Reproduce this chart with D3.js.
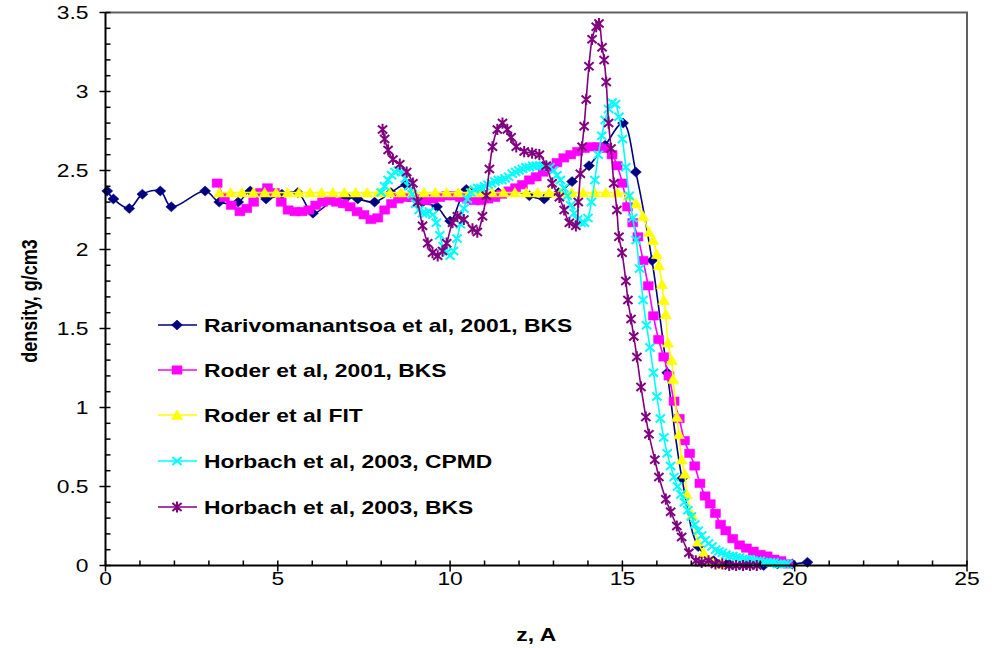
<!DOCTYPE html>
<html>
<head>
<meta charset="utf-8">
<script src="https://cdn.jsdelivr.net/npm/d3@7"></script>
<style>
  html, body { margin: 0; padding: 0; background: #fff; }
  svg { display: block; font-family: "Liberation Sans", Arial, sans-serif; }
</style>
</head>
<body>
<svg id="chart" width="992" height="648"></svg>
<script>
// ---- data: density profiles rho(z) ----
const zRari = [0.05, 0.23, 0.69, 1.07, 1.59, 1.91, 2.89, 3.30, 3.85, 4.20, 4.66, 5.12, 5.58, 6.02, 6.60, 7.00, 7.32, 7.81,
  8.28, 8.72, 9.20, 9.62, 10.00, 10.47, 10.93, 11.40, 11.88, 12.30, 12.73, 13.15, 13.54, 14.03, 14.50, 15.02, 15.39,
  15.86, 16.30, 16.73, 17.20, 17.65, 18.10, 18.60, 19.10, 19.50, 19.93, 20.37];
const rhoRari = [2.37, 2.32, 2.26, 2.35, 2.37, 2.27, 2.37, 2.30, 2.30, 2.37, 2.32, 2.35, 2.36, 2.23, 2.31, 2.33, 2.32, 2.30,
  2.36, 2.41, 2.30, 2.27, 2.18, 2.38, 2.36, 2.36, 2.37, 2.34, 2.32, 2.36, 2.43, 2.53, 2.66, 2.80, 2.49,
  1.93, 1.22, 0.55, 0.12, 0.03, 0.01, 0.01, 0.00, 0.01, 0.01, 0.02];

const zRoder = [3.24, 3.45, 3.65, 3.90, 4.10, 4.30, 4.50, 4.70, 4.90, 5.10, 5.30, 5.50, 5.70, 5.90, 6.10, 6.30, 6.50, 6.70,
  6.90, 7.10, 7.30, 7.50, 7.70, 7.90, 8.10, 8.30, 8.50, 8.70, 8.90, 9.10, 9.30, 9.50, 9.70, 9.90, 10.10, 10.30, 10.50,
  10.70, 10.90, 11.10, 11.30, 11.50, 11.70, 11.90, 12.10, 12.30, 12.50, 12.70, 12.90, 13.10, 13.30, 13.50, 13.70, 13.90,
  14.10, 14.30, 14.50, 14.70, 14.85, 15.00, 15.15, 15.30, 15.45, 15.60, 15.75, 15.90, 16.05, 16.20, 16.35, 16.50, 16.65,
  16.80, 16.95, 17.10, 17.25, 17.40, 17.55, 17.70, 17.85, 18.00, 18.20, 18.40, 18.60, 18.80, 19.00, 19.20, 19.40, 19.60, 19.80];
const rhoRoder = [2.42, 2.33, 2.28, 2.24, 2.26, 2.30, 2.36, 2.39, 2.36, 2.30, 2.25, 2.24, 2.24, 2.25, 2.28, 2.30, 2.31, 2.30,
  2.29, 2.27, 2.24, 2.22, 2.19, 2.20, 2.25, 2.29, 2.32, 2.33, 2.33, 2.32, 2.31, 2.32, 2.33, 2.34, 2.34, 2.33, 2.32,
  2.31, 2.31, 2.32, 2.33, 2.35, 2.37, 2.39, 2.41, 2.44, 2.46, 2.49, 2.52, 2.55, 2.58, 2.60, 2.62, 2.64,
  2.65, 2.65, 2.64, 2.60, 2.53, 2.42, 2.27, 2.17, 2.08, 1.93, 1.77, 1.58, 1.43, 1.32, 1.20, 1.04, 0.93,
  0.79, 0.71, 0.63, 0.52, 0.44, 0.39, 0.33, 0.26, 0.22, 0.17, 0.13, 0.11, 0.09, 0.07, 0.06, 0.04, 0.03, 0.01];

const zFit = [3.30, 3.63, 3.96, 4.29, 4.62, 4.95, 5.28, 5.61, 5.94, 6.27, 6.60, 6.93, 7.26, 7.59, 7.92, 8.25, 8.58, 8.91,
  9.24, 9.57, 9.90, 10.23, 10.56, 10.89, 11.22, 11.55, 11.88, 12.21, 12.54, 12.87, 13.20, 13.53, 13.86, 14.19, 14.52,
  14.85, 15.18, 15.40, 15.60, 15.77, 15.89, 16.00, 16.06, 16.15, 16.20, 16.26, 16.32, 16.43, 16.47, 16.58, 16.64,
  16.72, 16.81, 16.87, 17.02, 17.19, 17.36, 17.60, 17.85];
const rhoFit = [2.36, 2.36, 2.36, 2.36, 2.36, 2.36, 2.36, 2.36, 2.36, 2.36, 2.36, 2.36, 2.36, 2.36, 2.36, 2.36, 2.36, 2.36,
  2.36, 2.36, 2.36, 2.36, 2.36, 2.36, 2.36, 2.36, 2.36, 2.36, 2.36, 2.36, 2.36, 2.36, 2.36, 2.36, 2.36,
  2.36, 2.34, 2.29, 2.21, 2.11, 2.06, 1.97, 1.90, 1.78, 1.68, 1.59, 1.41, 1.30, 1.18, 0.94, 0.83,
  0.67, 0.58, 0.45, 0.32, 0.15, 0.08, 0.03, 0.01];

const zCpmd = [8.0, 8.1, 8.2, 8.3, 8.4, 8.5, 8.6, 8.7, 8.8, 8.9, 9.0, 9.1, 9.2, 9.3, 9.4, 9.5, 9.6, 9.7, 9.8, 9.9,
  10.0, 10.1, 10.2, 10.3, 10.4, 10.5, 10.6, 10.7, 10.8, 10.9, 11.0, 11.1, 11.2, 11.3, 11.4, 11.5, 11.6, 11.7, 11.8, 11.9,
  12.0, 12.1, 12.2, 12.3, 12.4, 12.5, 12.6, 12.7, 12.8, 12.9, 13.0, 13.1, 13.2, 13.3, 13.4, 13.5, 13.6, 13.7, 13.8, 13.9,
  14.0, 14.1, 14.2, 14.3, 14.4, 14.5, 14.6, 14.7, 14.8, 14.9, 15.0, 15.1, 15.2, 15.3, 15.4, 15.5, 15.6, 15.7, 15.8, 15.9,
  16.0, 16.1, 16.2, 16.3, 16.4, 16.5, 16.6, 16.7, 16.8, 16.9, 17.0, 17.1, 17.2, 17.3, 17.4, 17.5, 17.6, 17.7, 17.8, 17.9,
  18.0, 18.1, 18.2, 18.3, 18.4, 18.5, 18.6, 18.7, 18.8, 18.9, 19.0, 19.1, 19.2, 19.3, 19.4, 19.5, 19.6, 19.7, 19.8];
const rhoCpmd = [2.36, 2.40, 2.44, 2.47, 2.49, 2.50, 2.49, 2.45, 2.40, 2.35, 2.29, 2.25, 2.23, 2.23, 2.24, 2.22, 2.17, 2.09, 2.02, 1.98,
  1.96, 1.99, 2.07, 2.16, 2.26, 2.32, 2.36, 2.38, 2.39, 2.39, 2.40, 2.41, 2.42, 2.43, 2.44, 2.44, 2.45, 2.46, 2.48, 2.49,
  2.50, 2.51, 2.52, 2.52, 2.53, 2.53, 2.53, 2.53, 2.53, 2.52, 2.50, 2.47, 2.44, 2.39, 2.34, 2.28, 2.23, 2.19, 2.17, 2.17,
  2.20, 2.30, 2.44, 2.60, 2.72, 2.82, 2.89, 2.93, 2.92, 2.84, 2.70, 2.52, 2.34, 2.20, 2.06, 1.88, 1.68, 1.52, 1.38, 1.22,
  1.07, 0.93, 0.81, 0.71, 0.63, 0.56, 0.50, 0.45, 0.40, 0.35, 0.31, 0.26, 0.22, 0.19, 0.16, 0.14, 0.12, 0.10, 0.09, 0.08,
  0.07, 0.06, 0.06, 0.05, 0.05, 0.04, 0.04, 0.04, 0.03, 0.03, 0.03, 0.02, 0.02, 0.02, 0.02, 0.01, 0.01, 0.01, 0.01];

const zHbks = [8.04, 8.10, 8.20, 8.34, 8.54, 8.74, 8.92, 9.06, 9.20, 9.35, 9.49, 9.64, 9.78, 9.90, 10.07, 10.21, 10.40,
  10.65, 10.79, 10.94, 11.05, 11.14, 11.23, 11.37, 11.52, 11.66, 11.77, 11.92, 12.15, 12.38, 12.59, 12.79, 12.96, 13.17,
  13.31, 13.46, 13.65, 13.72, 13.78, 13.83, 13.89, 13.95, 14.03, 14.12, 14.24, 14.32, 14.41, 14.47, 14.53, 14.60, 14.67,
  14.75, 14.84, 14.90, 14.99, 15.10, 15.16, 15.25, 15.33, 15.42, 15.54, 15.68, 15.77, 15.94, 16.06, 16.26, 16.40, 16.58,
  16.72, 16.93, 17.13, 17.30, 17.50, 17.70, 17.90, 18.10, 18.30, 18.50, 18.70, 18.90];
const rhoHbks = [2.76, 2.70, 2.63, 2.57, 2.54, 2.49, 2.42, 2.30, 2.15, 2.04, 1.98, 1.96, 1.99, 2.04, 2.17, 2.21, 2.19,
  2.13, 2.11, 2.21, 2.34, 2.51, 2.65, 2.76, 2.80, 2.76, 2.71, 2.65, 2.62, 2.61, 2.60, 2.53, 2.42, 2.33,
  2.25, 2.17, 2.15, 2.30, 2.48, 2.65, 2.78, 2.95, 3.16, 3.33, 3.41, 3.43, 3.28, 3.20, 3.06, 2.80, 2.64,
  2.42, 2.25, 2.08, 1.98, 1.80, 1.68, 1.56, 1.45, 1.32, 1.13, 0.94, 0.83, 0.67, 0.56, 0.42, 0.34, 0.25,
  0.18, 0.08, 0.03, 0.02, 0.03, 0.01, 0.01, 0.00, 0.00, 0.00, 0.00, 0.00];

const seriesNames = ["Rarivomanantsoa et al, 2001, BKS", "Roder et al, 2001, BKS", "Roder et al FIT",
  "Horbach et al, 2003, CPMD", "Horbach et al, 2003, BKS"];
const xTickLabels = ["0", "5", "10", "15", "20", "25"];
const yTickLabels = ["0", "0.5", "1", "1.5", "2", "2.5", "3", "3.5"];

// ---- layout ----
const svg = d3.select("#chart");
const M = { left: 105.5, right: 967, top: 12.5, bottom: 565.5 };
const SX = 1.27; // horizontal stretch of text glyphs

const x = d3.scaleLinear().domain([0, 25]).range([M.left, M.right]);
const y = d3.scaleLinear().domain([0, 3.5]).range([M.bottom, M.top]);

// marker shapes (slightly wider than tall)
const markerPath = {
  diamond: "M0,-5L5.5,0L0,5L-5.5,0Z",
  square: "M-5,-4.2H5V4.2H-5Z",
  triangle: "M0,-5.2L5.6,4.4H-5.6Z",
  cross: "M-4.6,-4L4.6,4M-4.6,4L4.6,-4",
  star: "M-4.6,-4L4.6,4M-4.6,4L4.6,-4M0,-5.6V5.6"
};

const series = [
  { name: seriesNames[0], z: zRari, rho: rhoRari, color: "#000080", marker: "diamond", filled: true },
  { name: seriesNames[1], z: zRoder, rho: rhoRoder, color: "#FF00FF", marker: "square", filled: true },
  { name: seriesNames[2], z: zFit, rho: rhoFit, color: "#FFFF00", marker: "triangle", filled: true },
  { name: seriesNames[3], z: zCpmd, rho: rhoCpmd, color: "#00FFFF", marker: "cross", filled: false },
  { name: seriesNames[4], z: zHbks, rho: rhoHbks, color: "#800080", marker: "star", filled: false }
].map(s => ({ ...s, points: s.z.map((v, i) => [v, s.rho[i]]) }));

// plot frame (top and right edges)
svg.append("path")
  .attr("d", `M${M.left},${M.top}H${M.right}V${M.bottom}`)
  .attr("fill", "none").attr("stroke", "#606060").attr("stroke-width", 2);

// ---- series ----
const line = d3.line().x(d => x(d[0])).y(d => y(d[1])).curve(d3.curveCatmullRom.alpha(0.5));
const gSeries = svg.append("g");
series.forEach(s => {
  const g = gSeries.append("g");
  g.append("path").attr("d", line(s.points))
    .attr("fill", "none").attr("stroke", s.color).attr("stroke-width", 1.6);
  g.selectAll("path.m").data(s.points).join("path")
    .attr("class", "m")
    .attr("transform", d => `translate(${x(d[0])},${y(d[1])})`)
    .attr("d", markerPath[s.marker])
    .attr("fill", s.filled ? s.color : "none")
    .attr("stroke", s.color)
    .attr("stroke-width", s.filled ? 0.5 : 2);
});

// ---- axes ----
const gAxes = svg.append("g").attr("stroke", "#000");
gAxes.append("line").attr("x1", M.left).attr("x2", M.right).attr("y1", M.bottom).attr("y2", M.bottom).attr("stroke-width", 2);
gAxes.append("line").attr("x1", M.left).attr("x2", M.left).attr("y1", M.top).attr("y2", M.bottom).attr("stroke-width", 2);

const xMajor = x.ticks(5), xMinor = x.ticks(25).filter(v => v % 5 !== 0);
const yMajor = y.ticks(7), yMinor = y.ticks(35).filter(v => Math.abs(v * 2 - Math.round(v * 2)) > 1e-6);

gAxes.selectAll("line.xM").data(xMajor).join("line").attr("class", "xM")
  .attr("x1", d => x(d)).attr("x2", d => x(d)).attr("y1", M.bottom - 5).attr("y2", M.bottom + 6).attr("stroke-width", 1.5);
gAxes.selectAll("line.xm").data(xMinor).join("line").attr("class", "xm")
  .attr("x1", d => x(d)).attr("x2", d => x(d)).attr("y1", M.bottom - 5).attr("y2", M.bottom).attr("stroke-width", 1.5);
gAxes.selectAll("line.yM").data(yMajor).join("line").attr("class", "yM")
  .attr("x1", M.left - 6).attr("x2", M.left + 5).attr("y1", d => y(d)).attr("y2", d => y(d)).attr("stroke-width", 1.5);
gAxes.selectAll("line.ym").data(yMinor).join("line").attr("class", "ym")
  .attr("x1", M.left).attr("x2", M.left + 5).attr("y1", d => y(d)).attr("y2", d => y(d)).attr("stroke-width", 1.5);

// tick labels
svg.append("g").selectAll("text").data(xMajor).join("text")
  .attr("transform", d => `translate(${x(d)},${M.bottom + 19}) scale(${SX},1)`)
  .attr("text-anchor", "middle").attr("font-size", 18).attr("fill", "#000")
  .text((d, i) => xTickLabels[i]);
svg.append("g").selectAll("text").data(yMajor).join("text")
  .attr("transform", d => `translate(${M.left - 17},${y(d) + 6.5}) scale(${SX},1)`)
  .attr("text-anchor", "end").attr("font-size", 18).attr("fill", "#000")
  .text((d, i) => yTickLabels[i]);

// axis titles
svg.append("text")
  .attr("transform", `translate(${(M.left + M.right) / 2},${641}) scale(${SX},1)`)
  .attr("text-anchor", "middle").attr("font-size", 18).attr("font-weight", "bold")
  .text("z, A");
svg.append("text")
  .attr("transform", `translate(${37},${(M.top + M.bottom) / 2 + 12}) scale(${SX},1) rotate(-90)`)
  .attr("text-anchor", "middle").attr("font-size", 18).attr("font-weight", "bold")
  .text("density, g/cm3");

// ---- legend ----
const legendRows = [325, 370, 415, 461, 507];
const gLeg = svg.append("g");
series.forEach((s, i) => {
  const yy = legendRows[i];
  gLeg.append("line").attr("x1", 158).attr("x2", 197).attr("y1", yy).attr("y2", yy)
    .attr("stroke", s.color).attr("stroke-width", 1.6);
  gLeg.append("path").attr("transform", `translate(177,${yy})`).attr("d", markerPath[s.marker])
    .attr("fill", s.filled ? s.color : "none").attr("stroke", s.color)
    .attr("stroke-width", s.filled ? 0.5 : 2);
  gLeg.append("text").attr("transform", `translate(204,${yy + 6.5}) scale(${SX},1)`)
    .attr("font-size", 18).attr("font-weight", "bold").attr("fill", "#000")
    .text(s.name);
});
</script>
</body>
</html>
